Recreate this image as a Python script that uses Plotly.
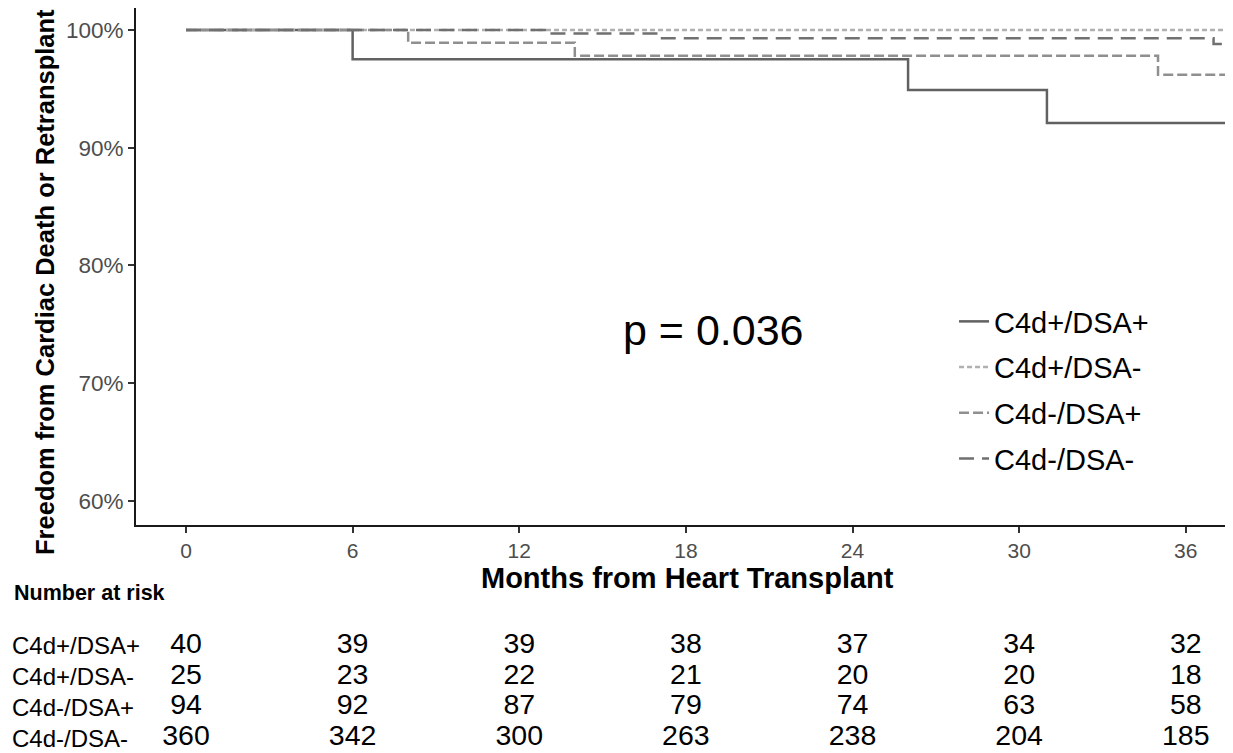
import plotly.graph_objects as go

# Kaplan-Meier step curves (months, % event-free)
groups = ["C4d+/DSA+", "C4d+/DSA-", "C4d-/DSA+", "C4d-/DSA-"]

c4dp_dsap_months = [0, 6, 26, 31, 38]
c4dp_dsap_surv = [100, 97.5, 94.9, 92.1, 92.1]

c4dp_dsan_months = [0, 38]
c4dp_dsan_surv = [100, 100]

c4dn_dsap_months = [0, 8, 14, 35, 38]
c4dn_dsap_surv = [100, 98.9, 97.8, 96.2, 96.2]

c4dn_dsan_months = [0, 13, 17, 37, 38]
c4dn_dsan_surv = [100, 99.7, 99.3, 98.8, 98.8]

# number at risk table
risk_months = [0, 6, 12, 18, 24, 30, 36]
risk_c4dp_dsap = [40, 39, 39, 38, 37, 34, 32]
risk_c4dp_dsan = [25, 23, 22, 21, 20, 20, 18]
risk_c4dn_dsap = [94, 92, 87, 79, 74, 63, 58]
risk_c4dn_dsan = [360, 342, 300, 263, 238, 204, 185]

y_ticks = [60, 70, 80, 90, 100]
p_label = "p = 0.036"

FONT = "Liberation Sans, Arial, sans-serif"

curves = [
    (c4dp_dsap_months, c4dp_dsap_surv, "#616161", "solid"),
    (c4dp_dsan_months, c4dp_dsan_surv, "#b0b0b0", "5px,3px"),
    (c4dn_dsap_months, c4dn_dsap_surv, "#8f8f8f", "10px,4px"),
    (c4dn_dsan_months, c4dn_dsan_surv, "#707070", "15px,8px"),
]

fig = go.Figure()

for name, (t, s, color, dash) in zip(groups, curves):
    fig.add_trace(
        go.Scatter(
            x=t, y=s, name=name, mode="lines", line_shape="hv",
            legendgroup=name,
            line=dict(color=color, width=2.5, dash=dash),
        )
    )

risk_rows = [risk_c4dp_dsap, risk_c4dp_dsan, risk_c4dn_dsap, risk_c4dn_dsan]
tx, ty, tt = [], [], []
for name, row in zip(groups, risk_rows):
    for m, n in zip(risk_months, row):
        tx.append(m)
        ty.append(name)
        tt.append(str(n))

fig.add_trace(
    go.Scatter(
        x=tx, y=ty, text=tt, mode="text", xaxis="x2", yaxis="y2",
        textfont=dict(size=28.5, color="#000000", family=FONT),
        showlegend=False, hoverinfo="skip",
    )
)

annotations = [
    dict(x=19, y=74.5, xref="x", yref="y", text=p_label, showarrow=False,
         font=dict(size=43, color="#000000")),
    dict(x=-0.083, y=0.6322, xref="paper", yref="paper", textangle=-90,
         xanchor="center", yanchor="middle",
         text="<b>Freedom from Cardiac Death or Retransplant</b>", showarrow=False,
         font=dict(size=25.5, color="#000000")),
    dict(x=0.5023, y=0.2349, xref="paper", yref="paper",
         xanchor="center", yanchor="middle",
         text="<b>Months from Heart Transplant</b>", showarrow=False,
         font=dict(size=29, color="#000000")),
    dict(x=-0.113, y=0.2148, xref="paper", yref="paper", text="<b>Number at risk</b>",
         showarrow=False, xanchor="left", yanchor="middle",
         font=dict(size=21.5, color="#000000")),
]
for name in groups:
    annotations.append(
        dict(x=-0.115, y=name, xref="paper", yref="y2", text=name, showarrow=False,
             xanchor="left", yanchor="middle", font=dict(size=24, color="#000000"))
    )

fig.update_layout(
    width=1225, height=745,
    margin=dict(l=128, r=0, t=0, b=0),
    paper_bgcolor="white", plot_bgcolor="white",
    font=dict(family=FONT, color="#000000"),
    xaxis=dict(
        range=[-1.8, 37.7], tickvals=risk_months, showgrid=False, zeroline=False,
        showline=True, linecolor="#1a1a1a", linewidth=2,
        ticks="outside", ticklen=6, tickwidth=2, tickcolor="#333333",
        tickfont=dict(size=21, color="#4d4d4d"),
        anchor="y", domain=[0, 1],
    ),
    yaxis=dict(
        range=[58, 101.86], tickvals=y_ticks, ticktext=[f"{v}%" for v in y_ticks],
        showgrid=False, zeroline=False,
        showline=True, linecolor="#1a1a1a", linewidth=2,
        ticks="outside", ticklen=6, tickwidth=2, tickcolor="#333333",
        tickfont=dict(size=22.5, color="#4d4d4d"),
        domain=[0.3066, 1.0], anchor="x",
    ),
    xaxis2=dict(matches="x", visible=False, anchor="y2", domain=[0, 1]),
    yaxis2=dict(
        type="category", categoryarray=groups[::-1], range=[-0.489, 4.369],
        visible=False, domain=[0, 0.2], anchor="x2",
    ),
    legend=dict(
        x=0.7457, y=0.6134, xanchor="left", yanchor="top",
        font=dict(size=29, color="#000000"), tracegroupgap=5,
        bgcolor="rgba(0,0,0,0)",
    ),
    annotations=annotations,
)

fig.write_html("out.html")
